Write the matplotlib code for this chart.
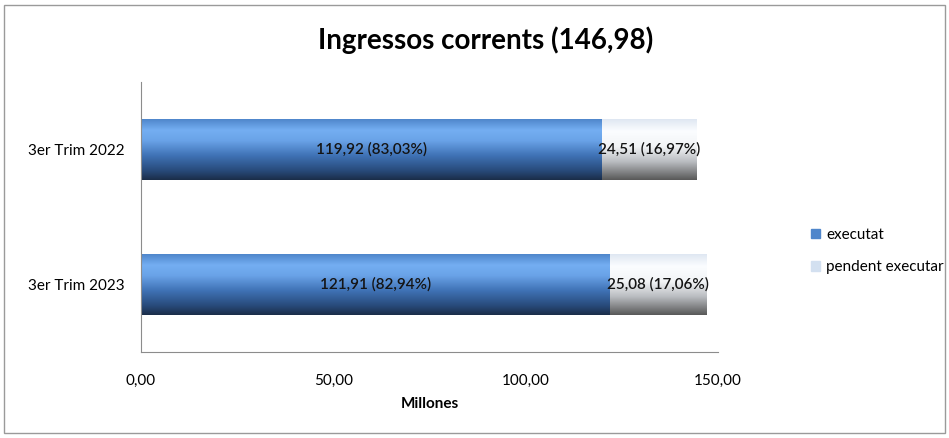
import numpy as np
import matplotlib
matplotlib.use("Agg")
import matplotlib.pyplot as plt
from matplotlib.colors import LinearSegmentedColormap
from matplotlib.patches import Rectangle

# Dades
categories = ["3er Trim 2023", "3er Trim 2022"]
executat = [121.91, 119.92]
pendent = [25.08, 24.51]
pct_exec = ["82,94%", "83,03%"]
pct_pend = ["17,06%", "16,97%"]
title = "Ingressos corrents (146,98)"
xticks = [0, 50, 100, 150]

plt.rcParams['font.family'] = ['Lato', 'DejaVu Sans']

fig = plt.figure(figsize=(9.49, 4.38), dpi=100)
ax = fig.add_axes([141/949, 1 - 352/438, 577/949, 270/438])

# degradats estil Excel
blue_cmap = LinearSegmentedColormap.from_list(
    "blau", [(0.0, "#4f86cb"), (0.18, "#74aef2"), (0.35, "#6aa3e8"),
             (0.6, "#3f72b5"), (0.85, "#284a7a"), (1.0, "#1b2d48")])
grey_cmap = LinearSegmentedColormap.from_list(
    "gris", [(0.0, "#dfe7f2"), (0.2, "#fbfdff"), (0.45, "#f2f4f6"),
             (0.7, "#b9bcc0"), (1.0, "#585858")])
grad = np.linspace(0, 1, 256).reshape(-1, 1)

y = np.arange(len(categories))
h = 0.45
b1 = ax.barh(y, executat, height=h, color="none", label="executat")
b2 = ax.barh(y, pendent, left=executat, height=h, color="none", label="pendent executar")

for bars, cmap in [(b1, blue_cmap), (b2, grey_cmap)]:
    for p in bars:
        x0, y0 = p.get_x(), p.get_y()
        im = ax.imshow(grad, cmap=cmap, aspect="auto", origin="upper",
                       extent=(x0, x0 + p.get_width(), y0, y0 + p.get_height()),
                       zorder=2)
        im.set_clip_path(p)

for i in range(len(categories)):
    ax.text(executat[i] / 2, y[i], f"{executat[i]:.2f} ({pct_exec[i]})".replace(".", ","),
            ha="center", va="center", fontsize=11, fontweight=600, color="#141414", zorder=3)
    ax.text(executat[i] + pendent[i] / 2, y[i], f"{pendent[i]:.2f} ({pct_pend[i]})".replace(".", ","),
            ha="center", va="center", fontsize=11, fontweight=600, color="#141414", zorder=3)

ax.set_xlim(0, 150)
ax.set_ylim(-0.5, 1.5)
ax.set_xticks(xticks)
ax.set_xticklabels([f"{v:.2f}".replace(".", ",") for v in xticks], fontsize=11)
ax.set_yticks(y)
ax.set_yticklabels(categories, fontsize=11)
ax.tick_params(length=0, pad=12)
ax.tick_params(axis="x", pad=16)
for s in ["top", "right"]:
    ax.spines[s].set_visible(False)
for s in ["left", "bottom"]:
    ax.spines[s].set_color("#8c8c8c")
ax.set_xlabel("Millones", fontsize=11, fontweight="bold", labelpad=6)

fig.text(486/949, 1 - 40/438, title, ha="center", va="center", fontsize=20, fontweight="bold")

handles = [Rectangle((0, 0), 1, 1, color="#4f86cb"), Rectangle((0, 0), 1, 1, color="#d3e0f0")]
fig.legend(handles, ["executat", "pendent executar"], loc="center left",
           bbox_to_anchor=(797/949, 1 - 251/438), frameon=False, fontsize=11,
           handlelength=0.6, handleheight=0.6, handletextpad=0.4, labelspacing=1.2)

fig.patches.append(Rectangle((4/949, 5/438), 941/949, 428/438, transform=fig.transFigure,
                             fill=False, edgecolor="#9a9a9a", linewidth=1))

fig.savefig("out.png", dpi=100)
